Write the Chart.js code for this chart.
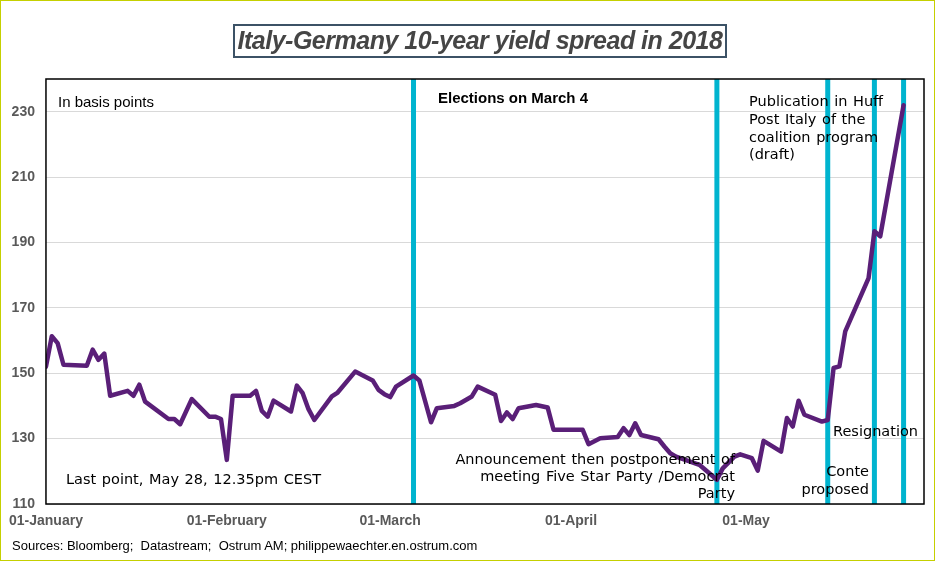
<!DOCTYPE html>
<html>
<head>
<meta charset="utf-8">
<script src="https://cdn.jsdelivr.net/npm/chart.js@4"></script>
<style>
  body { margin: 0; background: #fff; }
  #wrap { position: relative; width: 940px; height: 563px; overflow: hidden; }
  #frame { position: absolute; left: 0; top: 0; width: 935px; height: 561px; box-sizing: border-box; border: 1.5px solid #c5d000; pointer-events: none; }
  #title { position: absolute; left: 233px; top: 24px; width: 494px; height: 34px; box-sizing: border-box;
           border: 2.5px solid #3c5266; text-align: center; font: italic bold 25px "Liberation Sans", Arial, sans-serif;
           letter-spacing: -0.5px; color: #454545; line-height: 29px; }
  .note { position: absolute; white-space: pre; color: #000; }
  .arial { font-family: "Liberation Sans", Arial, sans-serif; }
  .verd { font-family: "DejaVu Sans", Verdana, sans-serif; font-size: 14.5px; word-spacing: 1px; }
</style>
</head>
<body>
<div id="wrap">
  <canvas id="spread" width="940" height="563"></canvas>
  <div id="title">Italy-Germany 10-year yield spread in 2018</div>
  <div class="note arial" style="left:58px; top:93px; font-size:15px; line-height:18px;">In basis points</div>
  <div class="note arial" style="left:438px; top:89px; font-size:15px; line-height:18px; font-weight:bold;">Elections on March 4</div>
  <div class="note verd" style="left:749px; top:93px; line-height:17.8px;">Publication in Huff
Post Italy of the
coalition program
(draft)</div>
  <div class="note verd" style="right:205px; top:451px; line-height:17px; text-align:right;">Announcement then postponement of
meeting Five Star Party /Democrat
Party</div>
  <div class="note verd" style="right:71px; top:462px; line-height:18.3px; text-align:right;">Conte
proposed</div>
  <div class="note verd" style="left:833px; top:422px; line-height:18px;">Resignation</div>
  <div class="note verd" style="left:66px; top:470px; line-height:18px;">Last point, May 28, 12.35pm CEST</div>
  <div class="note arial" style="left:12px; top:538px; font-size:13px; line-height:16px;">Sources: Bloomberg;  Datastream;  Ostrum AM; philippewaechter.en.ostrum.com</div>
  <div id="frame"></div>
</div>
<script>
// spread values (basis points)
const dates = [
  '2018-01-01','2018-01-02','2018-01-03','2018-01-04','2018-01-08','2018-01-09','2018-01-10','2018-01-11',
  '2018-01-12','2018-01-15','2018-01-16','2018-01-17','2018-01-18','2018-01-22','2018-01-23','2018-01-24',
  '2018-01-26','2018-01-29','2018-01-30','2018-01-31','2018-02-01','2018-02-02','2018-02-05','2018-02-06',
  '2018-02-07','2018-02-08','2018-02-09','2018-02-12','2018-02-13','2018-02-14','2018-02-15','2018-02-16',
  '2018-02-19','2018-02-20','2018-02-23','2018-02-26','2018-02-27','2018-02-28','2018-03-01','2018-03-02',
  '2018-03-05','2018-03-06','2018-03-08','2018-03-09','2018-03-12','2018-03-13','2018-03-15','2018-03-16',
  '2018-03-19','2018-03-20','2018-03-21','2018-03-22','2018-03-23','2018-03-26','2018-03-28','2018-03-29',
  '2018-04-03','2018-04-04','2018-04-06','2018-04-09','2018-04-10','2018-04-11','2018-04-12','2018-04-13',
  '2018-04-16','2018-04-17','2018-04-18','2018-04-19','2018-04-23','2018-04-26','2018-04-27','2018-04-29',
  '2018-04-30','2018-05-02','2018-05-03','2018-05-04','2018-05-07','2018-05-08','2018-05-09','2018-05-10',
  '2018-05-11','2018-05-14','2018-05-15','2018-05-16','2018-05-17','2018-05-18','2018-05-22','2018-05-23',
  '2018-05-24','2018-05-28'
];
const spread = [
  152, 161.3, 159.2, 152.6, 152.3, 157.2, 154.1, 156,
  143.1, 144.6, 143.1, 146.5, 141.3, 136, 136, 134.4,
  142.1, 136.7, 136.7, 136, 123.5, 143.1, 143.1, 144.6,
  138.5, 136.7, 141.6, 138.3, 146.2, 143.9, 139, 135.7,
  142.9, 144.1, 150.5, 147.8, 144.9, 143.6, 142.7, 145.9,
  149.3, 147.8, 135, 139.3, 140, 140.8, 142.9, 145.9,
  143.4, 135.4, 138, 136, 139.3, 140.3, 139.5, 132.7,
  132.7, 128.3, 130.1, 130.5, 133.2, 131.1, 134.7, 131.1,
  129.8, 127.6, 125.5, 124.5, 122, 117.4, 120.9, 124.5,
  125.2, 124, 120.2, 129.3, 126, 136.3, 133.7, 141.6,
  137.3, 135.2, 135.7, 151.6, 152.1, 162.8, 179.1, 193.4,
  191.9, 232
];
const eventDates = ['2018-03-05', '2018-04-26', '2018-05-15', '2018-05-23', '2018-05-28'];
const monthTicks = ['2018-01-01', '2018-02-01', '2018-03-01', '2018-04-01', '2018-05-01'];
const monthLabels = ['01-January', '01-February', '01-March', '01-April', '01-May'];
const yTicks = [110, 130, 150, 170, 190, 210, 230];
const xEnd = '2018-05-31';

function dayOf(s) {
  const p = s.split('-').map(Number);
  return (Date.UTC(p[0], p[1] - 1, p[2]) - Date.UTC(2018, 0, 1)) / 86400000;
}

const points = dates.map((d, i) => ({ x: dayOf(d), y: spread[i] }));
const tickDays = monthTicks.map(dayOf);

// cyan event lines + black frame round the plot
const eventLines = {
  id: 'eventLines',
  beforeDatasetsDraw(chart) {
    const ctx = chart.ctx, a = chart.chartArea, xs = chart.scales.x;
    ctx.save();
    ctx.strokeStyle = '#00b4cf';
    ctx.lineWidth = 5;
    eventDates.forEach(function(d) {
      const px = xs.getPixelForValue(dayOf(d));
      ctx.beginPath();
      ctx.moveTo(px, a.top);
      ctx.lineTo(px, a.bottom);
      ctx.stroke();
    });
    ctx.restore();
  },
  afterDraw(chart) {
    const ctx = chart.ctx, a = chart.chartArea;
    ctx.save();
    ctx.strokeStyle = '#000';
    ctx.lineWidth = 1.5;
    ctx.strokeRect(a.left, a.top, a.right - a.left, a.bottom - a.top);
    ctx.restore();
  }
};

Chart.defaults.font.family = '"Liberation Sans", Arial, sans-serif';

new Chart(document.getElementById('spread').getContext('2d'), {
  type: 'line',
  data: {
    datasets: [{
      data: points,
      borderColor: '#5a1f78',
      borderWidth: 4.5,
      pointRadius: 0,
      tension: 0,
      borderJoinStyle: 'round',
      borderCapStyle: 'round'
    }]
  },
  options: {
    responsive: false,
    animation: false,
    layout: { padding: { top: 79, right: 16, left: 0, bottom: 0 } },
    plugins: { legend: { display: false }, tooltip: { enabled: false } },
    scales: {
      x: {
        type: 'linear',
        min: 0,
        max: dayOf(xEnd) + 0.5,
        afterBuildTicks(s) { s.ticks = tickDays.map(v => ({ value: v })); },
        afterFit(s) { s.height = 59; },
        grid: { display: false, drawTicks: false },
        border: { display: false },
        ticks: {
          padding: 9,
          maxRotation: 0,
          autoSkip: false,
          color: '#595959',
          font: { size: 14, weight: 'bold' },
          callback: function(v) { return monthLabels[tickDays.indexOf(v)]; }
        }
      },
      y: {
        min: 110,
        max: 240,
        afterBuildTicks(s) { s.ticks = yTicks.map(v => ({ value: v })); },
        afterFit(s) { s.width = 45.5; },
        grid: { color: '#d9d9d9', lineWidth: 1, drawTicks: false },
        border: { display: false },
        ticks: {
          padding: 11,
          color: '#595959',
          font: { size: 14, weight: 'bold' }
        }
      }
    }
  },
  plugins: [eventLines]
});
</script>
</body>
</html>
